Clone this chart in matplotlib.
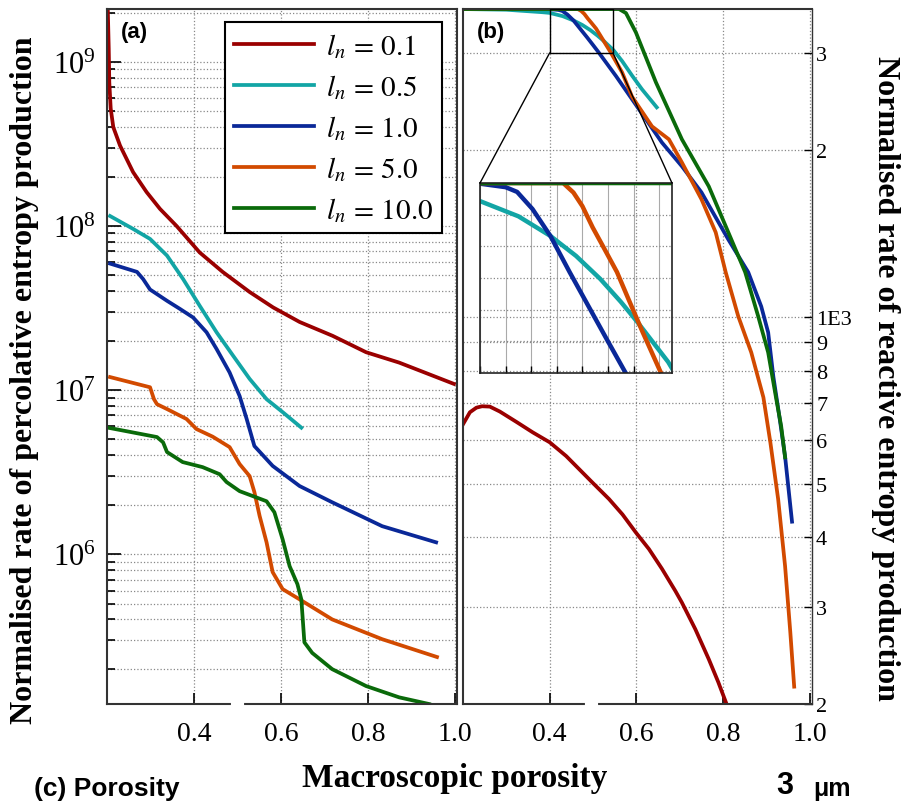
import numpy as np
import matplotlib
matplotlib.use("Agg")
import matplotlib.pyplot as plt
from matplotlib.patches import Rectangle, ConnectionPatch
from matplotlib.ticker import FixedLocator, NullFormatter, NullLocator

plt.rcParams['font.family'] = 'serif'
plt.rcParams['font.serif'] = ['Liberation Serif', 'DejaVu Serif']
plt.rcParams['mathtext.fontset'] = 'stix'

# ---- data (a): percolative entropy production ----
red_a_x = [0.200, 0.202, 0.204, 0.2053, 0.2085, 0.2145, 0.230, 0.26, 0.291, 0.322, 0.360, 0.413, 0.466, 0.528, 0.582, 0.643, 0.719, 0.796, 0.872, 0.998]
red_a_y = [3e9, 2.0e9, 1.2e9, 7.5e8, 5.2e8, 4.0e8, 3.09e8, 2.13e8, 1.61e8, 1.27e8, 1.0e8, 6.9e7, 5.25e7, 3.96e7, 3.19e7, 2.6e7, 2.14e7, 1.7e7, 1.47e7, 1.09e7]

cyan_a_x = [0.207, 0.26, 0.299, 0.338, 0.375, 0.413, 0.452, 0.490, 0.528, 0.567, 0.605, 0.647]
cyan_a_y = [1.15e8, 9.6e7, 8.34e7, 6.6e7, 4.75e7, 3.27e7, 2.25e7, 1.62e7, 1.17e7, 8.8e6, 7.3e6, 5.9e6]

blue_a_x = [0.207, 0.269, 0.283, 0.299, 0.338, 0.368, 0.398, 0.429, 0.452, 0.482, 0.505, 0.521, 0.539, 0.581, 0.643, 0.718, 0.833, 0.957]
blue_a_y = [5.9e7, 5.25e7, 4.75e7, 4.1e7, 3.5e7, 3.12e7, 2.77e7, 2.25e7, 1.78e7, 1.28e7, 9.2e6, 6.7e6, 4.56e6, 3.45e6, 2.6e6, 2.07e6, 1.48e6, 1.18e6]

orange_a_x = [0.207, 0.299, 0.308, 0.315, 0.338, 0.383, 0.406, 0.443, 0.482, 0.505, 0.528, 0.539, 0.551, 0.567, 0.581, 0.604, 0.643, 0.718, 0.833, 0.959]
orange_a_y = [1.2e7, 1.04e7, 8.8e6, 8.2e6, 7.66e6, 6.66e6, 5.78e6, 5.2e6, 4.49e6, 3.54e6, 2.99e6, 2.39e6, 1.71e6, 1.18e6, 7.77e5, 6.12e5, 5.3e5, 4.0e5, 3.03e5, 2.36e5]

green_a_x = [0.202, 0.315, 0.329, 0.338, 0.374, 0.42, 0.459, 0.475, 0.505, 0.535, 0.567, 0.585, 0.604, 0.62, 0.638, 0.647, 0.654, 0.672, 0.718, 0.796, 0.872, 0.941]
green_a_y = [5.9e6, 5.17e6, 4.8e6, 4.19e6, 3.64e6, 3.39e6, 3.07e6, 2.75e6, 2.42e6, 2.26e6, 2.1e6, 1.8e6, 1.23e6, 8.45e5, 6.56e5, 5.3e5, 2.9e5, 2.5e5, 1.99e5, 1.57e5, 1.34e5, 1.22e5]

# ---- data (b): reactive entropy production ----
red_b_x = [0.200, 0.216, 0.231, 0.244, 0.262, 0.285, 0.324, 0.361, 0.40, 0.438, 0.498, 0.537, 0.568, 0.599, 0.629, 0.659, 0.690, 0.705, 0.736, 0.767, 0.789, 0.808, 0.815]
red_b_y = [640, 673, 686, 690, 689, 675, 646, 619, 594, 561, 503, 469, 440, 408, 381, 351, 320, 305, 273, 241, 219, 200, 192]

cyan_b_x = [0.20, 0.30, 0.383, 0.40, 0.43, 0.455, 0.475, 0.494, 0.51, 0.523, 0.547, 0.567, 0.59, 0.613, 0.647]
cyan_b_y = [3600, 3590, 3553, 3543, 3495, 3433, 3370, 3297, 3225, 3161, 3035, 2900, 2730, 2578, 2392]

blue_b_x = [0.20, 0.30, 0.38, 0.40, 0.42, 0.429, 0.441, 0.455, 0.470, 0.486, 0.499, 0.513, 0.553, 0.606, 0.659, 0.705, 0.75, 0.812, 0.858, 0.888, 0.904, 0.916, 0.93, 0.943, 0.959]
blue_b_y = [3600, 3600, 3600, 3598, 3587, 3572, 3518, 3433, 3319, 3202, 3107, 3006, 2724, 2373, 2066, 1872, 1680, 1381, 1205, 1045, 938, 780, 660, 560, 427]

orange_b_x = [0.20, 0.40, 0.465, 0.473, 0.48, 0.488, 0.496, 0.507, 0.517, 0.527, 0.540, 0.567, 0.590, 0.636, 0.675, 0.705, 0.75, 0.783, 0.806, 0.835, 0.865, 0.893, 0.909, 0.927, 0.943, 0.955, 0.964]
orange_b_y = [3600, 3600, 3600, 3570, 3527, 3460, 3401, 3319, 3224, 3130, 3013, 2767, 2500, 2210, 2094, 1902, 1633, 1422, 1205, 1003, 863, 716, 594, 469, 355, 270, 215]

green_b_x = [0.20, 0.56, 0.576, 0.599, 0.645, 0.705, 0.767, 0.819, 0.851, 0.881, 0.904, 0.922, 0.934, 0.943]
green_b_y = [3600, 3600, 3540, 3265, 2655, 2094, 1722, 1381, 1205, 1003, 863, 716, 635, 558]

labels = [r'$l_n\,=\,0.1$', r'$l_n\,=\,0.5$', r'$l_n\,=\,1.0$', r'$l_n\,=\,5.0$', r'$l_n\,=\,10.0$']
colors = ['#9a0000', '#12a5a5', '#0a2898', '#d24a00', '#0a6a0a']

right_ticks = [200, 300, 400, 500, 600, 700, 800, 900, 1000, 2000, 3000]
right_labels = ['2', '3', '4', '5', '6', '7', '8', '9', '1E3', '2', '3']

fig = plt.figure(figsize=(9.06, 8.03), dpi=100)
ax_a = fig.add_axes([0.1181, 0.1220, 0.3863, 0.8655])
ax_b = fig.add_axes([0.5110, 0.1220, 0.3852, 0.8655])

lw = 2.7
grid_kw = dict(color='#888888', linestyle=':', linewidth=0.9)

# panel (a)
series_a = [(red_a_x, red_a_y), (cyan_a_x, cyan_a_y), (blue_a_x, blue_a_y),
            (orange_a_x, orange_a_y), (green_a_x, green_a_y)]
for (x, y), c, lab in zip(series_a, colors, labels):
    ax_a.plot(x, y, color=c, lw=lw, label=lab, solid_joinstyle='round')
ax_a.set_yscale('log')
ax_a.set_xlim(0.2, 1.005)
ax_a.set_ylim(1.22e5, 2.1e9)
ax_a.set_xticks([0.4, 0.6, 0.8, 1.0])
ax_a.set_xticklabels(['0.4', '0.6', '0.8', '1.0'])
ax_a.tick_params(axis='x', direction='in', length=8, width=1.2, labelsize=20, pad=12)
ax_a.tick_params(axis='y', which='major', direction='in', length=10, width=1.2, labelsize=22, pad=8)
ax_a.tick_params(axis='y', which='minor', direction='in', length=6, width=1.2)
ax_a.grid(True, which='both', axis='y', **grid_kw)
ax_a.grid(True, which='major', axis='x', **grid_kw)
for s in ax_a.spines.values():
    s.set_color('#333333')
    s.set_linewidth(1.5)
ax_a.plot([0.489, 0.51], [0, 0], transform=ax_a.get_xaxis_transform(), color='white',
          lw=3, clip_on=False, zorder=6)
ax_a.text(0.04, 0.967, '(a)', transform=ax_a.transAxes, fontsize=16,
          fontweight='bold', family='Liberation Sans', va='center')
leg = ax_a.legend(loc='upper right', bbox_to_anchor=(0.957, 0.981), borderaxespad=0,
                  fontsize=21, handlelength=2.75, labelspacing=0.42, handletextpad=0.4,
                  fancybox=False, framealpha=1, borderpad=0.3)
leg.get_frame().set_edgecolor('black')
leg.get_frame().set_linewidth(1.5)

# panel (b)
series_b = [(red_b_x, red_b_y), (cyan_b_x, cyan_b_y), (blue_b_x, blue_b_y),
            (orange_b_x, orange_b_y), (green_b_x, green_b_y)]
for (x, y), c in zip(series_b, colors):
    ax_b.plot(x, y, color=c, lw=lw, solid_joinstyle='round')
ax_b.set_yscale('log')
ax_b.set_xlim(0.2, 1.005)
ax_b.set_ylim(200, 3600)
ax_b.set_xticks([0.4, 0.6, 0.8, 1.0])
ax_b.set_xticklabels(['0.4', '0.6', '0.8', '1.0'])
ax_b.yaxis.tick_right()
ax_b.yaxis.set_major_locator(FixedLocator(right_ticks))
ax_b.yaxis.set_minor_locator(NullLocator())
ax_b.set_yticklabels(right_labels)
ax_b.tick_params(axis='x', direction='in', length=8, width=1.2, labelsize=20, pad=12)
ax_b.tick_params(axis='y', direction='in', length=6, width=1.0, labelsize=16, pad=3)
ax_b.grid(True, axis='both', **grid_kw)
for side, s in ax_b.spines.items():
    s.set_color('#333333')
    s.set_linewidth(1.5 if side != 'right' else 1.0)
ax_b.plot([0.487, 0.507], [0, 0], transform=ax_b.get_xaxis_transform(), color='white',
          lw=3, clip_on=False, zorder=6)
ax_b.text(0.04, 0.967, '(b)', transform=ax_b.transAxes, fontsize=16,
          fontweight='bold', family='Liberation Sans', va='center')

# zoom box and inset
x0, x1, y0, y1 = 0.4, 0.546, 3000, 3600
ax_b.add_patch(Rectangle((x0, y0), x1 - x0, y1 - y0, fill=False, edgecolor='black', lw=1.0, zorder=5))
ax_in = fig.add_axes([0.5298, 0.5342, 0.2119, 0.2366])
ax_in.set_facecolor('none')
for (x, y), c in zip(series_b[1:], colors[1:]):
    ax_in.plot(x, y, color=c, lw=lw + 0.5, solid_joinstyle='round')
ax_in.set_xlim(x0, 0.55)
ax_in.set_ylim(y0, y1)
ax_in.set_xticks(np.arange(0.40, 0.55, 0.02))
ax_in.set_yticks([3100, 3200, 3300, 3400, 3500])
ax_in.xaxis.set_major_formatter(NullFormatter())
ax_in.yaxis.set_major_formatter(NullFormatter())
ax_in.tick_params(axis='x', direction='in', length=5, width=1.0)
ax_in.tick_params(axis='y', length=0)
ax_in.grid(True, axis='x', color='#aaaaaa', linestyle='-', linewidth=0.8)
ax_in.grid(True, axis='y', **grid_kw)
for s in ax_in.spines.values():
    s.set_color('#222222')
    s.set_linewidth(1.2)
for xa, xb in [(x0, 0.0), (x1, 1.0)]:
    con = ConnectionPatch(xyA=(xa, y0), coordsA=ax_b.transData,
                          xyB=(xb, 1.0), coordsB=ax_in.transAxes,
                          color='black', lw=1.0)
    fig.add_artist(con)

# labels
fig.text(0.027, 0.527, 'Normalised rate of percolative entropy production', rotation=90,
         ha='center', va='center', fontsize=23, fontweight='bold')
fig.text(0.977, 0.529, 'Normalised rate of reactive entropy production', rotation=270,
         ha='center', va='center', fontsize=23, fontweight='bold')
fig.text(0.502, 0.031, 'Macroscopic porosity', ha='center', va='center',
         fontsize=24, fontweight='bold')
fig.text(0.038, 0.003, '(c) Porosity', ha='left', va='bottom', fontsize=19,
         fontweight='bold', family='Liberation Sans')
fig.text(0.857, 0.003, '3', ha='left', va='bottom', fontsize=22, fontweight='bold',
         family='Liberation Sans')
fig.text(0.898, 0.003, 'μm', ha='left', va='bottom', fontsize=18, fontweight='bold',
         family='Liberation Sans')

fig.savefig('out.png', dpi=100)
